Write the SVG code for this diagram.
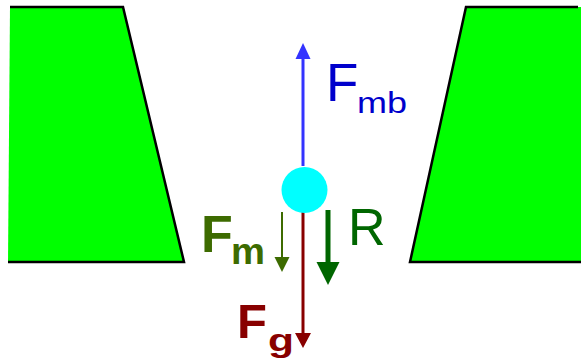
<svg xmlns="http://www.w3.org/2000/svg" width="581" height="361" viewBox="0 0 581 361">
<defs>
<style>
.wall{fill:#00ff00;stroke:none}
.edge{fill:none;stroke:#000;stroke-width:2.5;stroke-linejoin:miter}
text{font-family:"Liberation Sans",Arial,sans-serif}
.b{font-weight:bold}
</style>
</defs>
<rect width="581" height="361" fill="#fff"/>
<g id="left-wall">
<polygon class="wall" points="10,7 123,7 184,262 8,262"/>
<polyline class="edge" points="10,7 123,7 184,262 8,262"/>
</g>
<g id="right-wall">
<polygon class="wall" points="466,7 581,7 581,262 410,262"/>
<polyline class="edge" points="578,7 466,7 410,262 581,262"/>
</g>
<g id="connectors">
<line x1="303" y1="166" x2="303" y2="58" stroke="#3333ff" stroke-width="3"/>
<polygon points="303,43 295.5,59 310.5,59" fill="#3333ff"/>
<line x1="303" y1="210" x2="303" y2="334" stroke="#880000" stroke-width="3"/>
<polygon points="303,348 295,333 311,333" fill="#880000"/>
<line x1="282" y1="212" x2="282" y2="258" stroke="#3d6b00" stroke-width="2"/>
<polygon points="282,272 274.5,257 289.5,257" fill="#3d6b00"/>
<line x1="328" y1="210" x2="328" y2="263" stroke="#006600" stroke-width="5"/>
<polygon points="328,285 316.5,262 339.5,262" fill="#006600"/>
</g>
<g id="ball">
<circle cx="304.5" cy="190" r="23" fill="#00ffff"/>
</g>
<g id="label-fmb" fill="#0000cc">
<text x="326" y="101" font-size="53">F</text>
<text x="357" y="113" font-size="29" textLength="50" lengthAdjust="spacingAndGlyphs">mb</text>
</g>
<g id="label-fm" fill="#3d6b00">
<text class="b" x="201" y="252" font-size="52">F</text>
<text class="b" x="231" y="264" font-size="36" textLength="34" lengthAdjust="spacingAndGlyphs">m</text>
</g>
<g id="label-r" fill="#006600">
<text x="348" y="245" font-size="52">R</text>
</g>
<g id="label-fg" fill="#880000">
<text class="b" x="237" y="338" font-size="49">F</text>
<text class="b" x="268" y="351" font-size="32" textLength="26" lengthAdjust="spacingAndGlyphs">g</text>
</g>
</svg>
